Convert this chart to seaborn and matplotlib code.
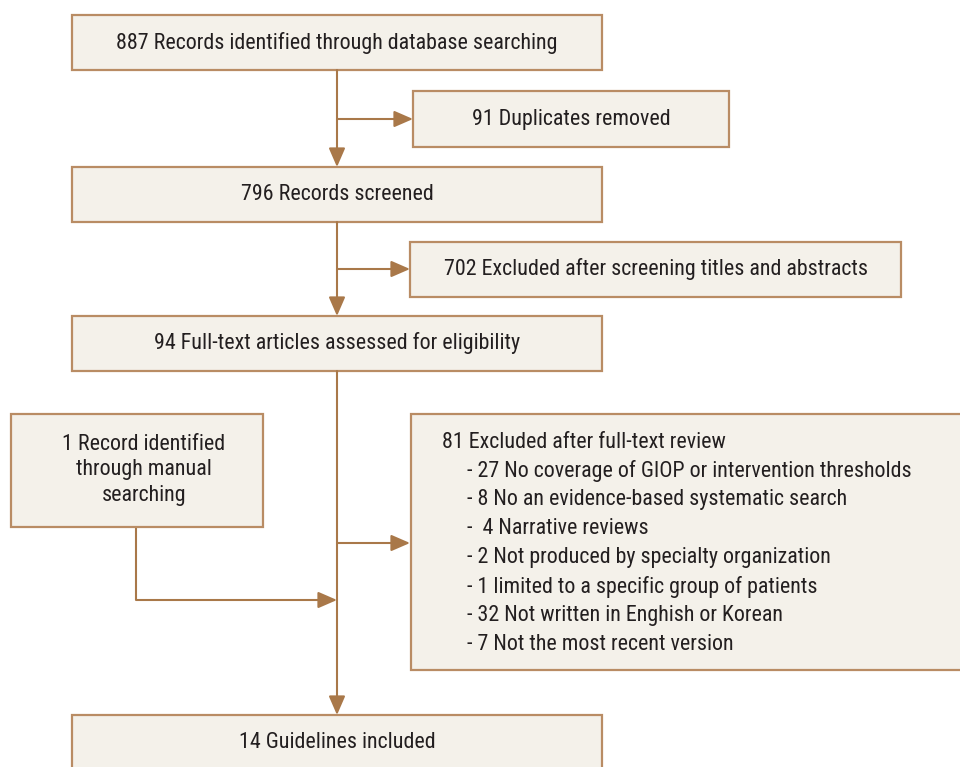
import matplotlib.pyplot as plt
import seaborn as sns
from matplotlib.patches import Rectangle

# flow chart text
main_steps = [
    "887 Records identified through database searching",
    "796 Records screened",
    "94 Full-text articles assessed for eligibility",
    "14 Guidelines included",
]
side_steps = [
    "91 Duplicates removed",
    "702 Excluded after screening titles and abstracts",
]
manual_text = "1 Record identified\nthrough manual\nsearching"
fulltext_header = "81 Excluded after full-text review"
fulltext_reasons = [
    "- 27 No coverage of GIOP or intervention thresholds",
    "- 8 No an evidence-based systematic search",
    "-  4 Narrative reviews",
    "- 2 Not produced by specialty organization",
    "- 1 limited to a specific group of patients",
    "- 32 Not written in Enghish or Korean",
    "- 7 Not the most recent version",
]

FILL = "#f4f1ea"
EDGE = "#b98c64"
ARROW = "#a97849"
TXT = "#231f20"

sns.set_style("white")
plt.rcParams["font.family"] = ["Roboto Condensed", "Barlow Condensed", "DejaVu Sans"]

fig = plt.figure(figsize=(9.6, 7.67), dpi=100)
ax = fig.add_axes([0, 0, 1, 1])
ax.set_xlim(0, 960)
ax.set_ylim(767, 0)
ax.axis("off")


def box(x0, y0, x1, y1):
    ax.add_patch(Rectangle((x0, y0), x1 - x0, y1 - y0, facecolor=FILL,
                           edgecolor=EDGE, lw=1.6, zorder=2))


def arrow(x0, y0, x1, y1):
    ax.annotate("", xy=(x1, y1), xytext=(x0, y0), zorder=3,
                arrowprops=dict(arrowstyle="-|>,head_length=1.15,head_width=0.5",
                                color=ARROW, lw=1.5, shrinkA=0, shrinkB=0))


def line(xs, ys):
    ax.plot(xs, ys, color=ARROW, lw=1.5, zorder=1, solid_capstyle="butt")


fs = 15.8
cx = 337

# main column boxes
main_boxes = [(72, 15, 602, 70), (72, 167, 602, 222), (72, 316, 602, 371), (72, 715, 602, 790)]
for (x0, y0, x1, y1), t in zip(main_boxes, main_steps):
    box(x0, y0, x1, y1)
    ty = 743 if y1 > 767 else (y0 + y1) / 2
    ax.text(cx, ty, t, ha="center", va="center", fontsize=fs, color=TXT, zorder=4)

# side boxes
side_boxes = [(413, 91, 729, 147), (410, 242, 901, 297)]
for (x0, y0, x1, y1), t in zip(side_boxes, side_steps):
    box(x0, y0, x1, y1)
    ax.text((x0 + x1) / 2, (y0 + y1) / 2, t, ha="center", va="center",
            fontsize=fs, color=TXT, zorder=4)

# vertical arrows between main boxes
arrow(cx, 70, cx, 167)
arrow(cx, 222, cx, 316)
arrow(cx, 371, cx, 715)

# side arrows
arrow(cx, 119, 413, 119)
arrow(cx, 269, 410, 269)
arrow(cx, 543, 410, 543)

# manual search box
box(11, 414, 263, 527)
ax.text(144, 470, manual_text, ha="center", va="center", fontsize=fs,
        color=TXT, linespacing=1.3, zorder=4)
line([136, 136], [527, 600])
arrow(136, 600, cx, 600)

# full-text exclusions box
box(411, 414, 975, 670)
ax.text(442, 442, fulltext_header, ha="left", va="center", fontsize=fs,
        color=TXT, zorder=4)
for i, r in enumerate(fulltext_reasons):
    ax.text(467, 471 + 29 * i, r, ha="left", va="center", fontsize=fs,
            color=TXT, zorder=4)

fig.savefig("out.png", dpi=100)
